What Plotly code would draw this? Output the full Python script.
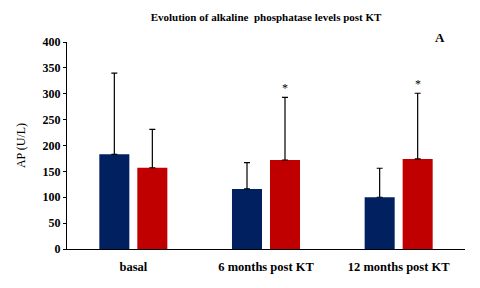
import plotly.graph_objects as go

categories = ["basal", "6 months post KT", "12 months post KT"]
blue_mean = [183, 116, 100]
blue_sd = [157, 51, 56]
red_mean = [157, 172, 174]
red_sd = [74, 121, 127]
red_sig = ["", "*", "*"]
y_ticks = [0, 50, 100, 150, 200, 250, 300, 350, 400]

SERIF = "Liberation Serif, Times New Roman, serif"

fig = go.Figure()
fig.add_trace(go.Bar(
    x=categories, y=blue_mean, marker_color="#002060", marker_line_width=0,
    error_y=dict(type="data", array=blue_sd, arrayminus=[0] * 3, symmetric=False,
                 color="black", thickness=1.2, width=3),
    showlegend=False))
fig.add_trace(go.Bar(
    x=categories, y=red_mean, marker_color="#C00000", marker_line_width=0,
    error_y=dict(type="data", array=red_sd, arrayminus=[0] * 3, symmetric=False,
                 color="black", thickness=1.2, width=3),
    showlegend=False))

for c, m, s, t in zip(categories, red_mean, red_sd, red_sig):
    if t:
        fig.add_annotation(x=c, y=m + s, text=t, showarrow=False, xshift=19,
                           yshift=9, font=dict(family=SERIF, size=12, color="black"))

fig.add_annotation(text="<b>A</b>", xref="paper", yref="paper", x=0.955, y=1.07,
                   showarrow=False, font=dict(family=SERIF, size=13, color="black"))

fig.update_layout(
    width=480, height=288,
    margin=dict(l=67, r=15, t=42, b=39),
    paper_bgcolor="white", plot_bgcolor="white",
    barmode="group", bargap=0.427, bargroupgap=0.21,
    title=dict(text="<b>Evolution of alkaline  phosphatase levels post KT</b>",
               x=0.5, xref="paper", y=0.94, yref="container", yanchor="middle",
               font=dict(family=SERIF, size=11, color="black")),
    font=dict(family=SERIF, color="black"),
    xaxis=dict(showline=True, linecolor="black", linewidth=1.2,
               ticks="outside", ticklen=6, tickcolor="rgba(0,0,0,0)",
               tickfont=dict(family=SERIF, size=12.5, color="black", weight="bold"),
               showgrid=False),
    yaxis=dict(range=[0, 400], tickvals=y_ticks, showline=True, linecolor="black",
               linewidth=1.2, ticks="outside", ticklen=3, tickcolor="black",
               tickfont=dict(family=SERIF, size=12, color="black", weight="bold"),
               showgrid=False, zeroline=False,
               title=dict(text="AP (U/L)", standoff=14,
                          font=dict(family=SERIF, size=12, color="black"))),
)

fig.write_html("out.html")
